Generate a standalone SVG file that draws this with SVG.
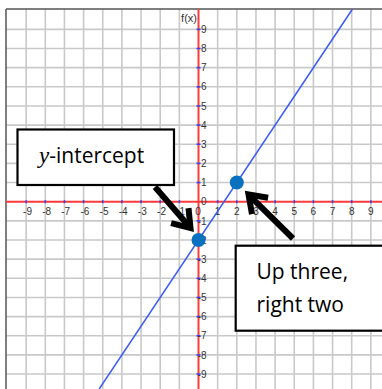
<svg xmlns="http://www.w3.org/2000/svg" width="382" height="389" viewBox="0 0 382 389">
<style>
.grid line{stroke:#c9c9c9;stroke-width:1.6}
.axis{stroke:#ff3a3a;stroke-width:2}
.tick line{stroke:#3344ee;stroke-width:1.6}
.lbl{font-family:"Liberation Sans",Arial,sans-serif;font-size:10px;fill:#333}
.xl{text-anchor:middle}
.yl{text-anchor:end}
.box{fill:#fff;stroke:#000;stroke-width:2.2}
.btxt{font-family:"Open Sans","Liberation Sans",sans-serif;font-size:21px;fill:#000}
.arrow{fill:none;stroke:#000;stroke-width:6;stroke-linejoin:miter;stroke-miterlimit:10}
.pt{fill:#0a70c0}
</style>
<rect width="382" height="389" fill="#fff"/>
<g id="grid" class="grid">
<line x1="26.15" y1="9" x2="26.15" y2="389"/><line x1="45.3" y1="9" x2="45.3" y2="389"/><line x1="64.45" y1="9" x2="64.45" y2="389"/><line x1="83.6" y1="9" x2="83.6" y2="389"/><line x1="102.75" y1="9" x2="102.75" y2="389"/><line x1="121.9" y1="9" x2="121.9" y2="389"/><line x1="141.05" y1="9" x2="141.05" y2="389"/><line x1="160.2" y1="9" x2="160.2" y2="389"/><line x1="179.35" y1="9" x2="179.35" y2="389"/><line x1="217.65" y1="9" x2="217.65" y2="389"/><line x1="236.8" y1="9" x2="236.8" y2="389"/><line x1="255.95" y1="9" x2="255.95" y2="389"/><line x1="275.1" y1="9" x2="275.1" y2="389"/><line x1="294.25" y1="9" x2="294.25" y2="389"/><line x1="313.4" y1="9" x2="313.4" y2="389"/><line x1="332.55" y1="9" x2="332.55" y2="389"/><line x1="351.7" y1="9" x2="351.7" y2="389"/><line x1="370.85" y1="9" x2="370.85" y2="389"/>
<line x1="6" y1="29.35" x2="382" y2="29.35"/><line x1="6" y1="48.5" x2="382" y2="48.5"/><line x1="6" y1="67.65" x2="382" y2="67.65"/><line x1="6" y1="86.8" x2="382" y2="86.8"/><line x1="6" y1="105.95" x2="382" y2="105.95"/><line x1="6" y1="125.1" x2="382" y2="125.1"/><line x1="6" y1="144.25" x2="382" y2="144.25"/><line x1="6" y1="163.4" x2="382" y2="163.4"/><line x1="6" y1="182.55" x2="382" y2="182.55"/><line x1="6" y1="220.85" x2="382" y2="220.85"/><line x1="6" y1="240" x2="382" y2="240"/><line x1="6" y1="259.15" x2="382" y2="259.15"/><line x1="6" y1="278.3" x2="382" y2="278.3"/><line x1="6" y1="297.45" x2="382" y2="297.45"/><line x1="6" y1="316.6" x2="382" y2="316.6"/><line x1="6" y1="335.75" x2="382" y2="335.75"/><line x1="6" y1="354.9" x2="382" y2="354.9"/><line x1="6" y1="374.05" x2="382" y2="374.05"/>
</g>
<g id="frame" stroke="#555" stroke-width="1.5">
<line x1="6" y1="9" x2="382" y2="9"/>
<line x1="6" y1="9" x2="6" y2="389"/>
</g>
<g id="axes">
<line class="axis" x1="6" y1="201.7" x2="382" y2="201.7"/>
<line class="axis" x1="198.5" y1="9" x2="198.5" y2="389"/>
</g>
<g id="ticks" class="tick">
<line x1="26.15" y1="200.2" x2="26.15" y2="203.2"/><line x1="45.3" y1="200.2" x2="45.3" y2="203.2"/><line x1="64.45" y1="200.2" x2="64.45" y2="203.2"/><line x1="83.6" y1="200.2" x2="83.6" y2="203.2"/><line x1="102.75" y1="200.2" x2="102.75" y2="203.2"/><line x1="121.9" y1="200.2" x2="121.9" y2="203.2"/><line x1="141.05" y1="200.2" x2="141.05" y2="203.2"/><line x1="160.2" y1="200.2" x2="160.2" y2="203.2"/><line x1="179.35" y1="200.2" x2="179.35" y2="203.2"/><line x1="217.65" y1="200.2" x2="217.65" y2="203.2"/><line x1="236.8" y1="200.2" x2="236.8" y2="203.2"/><line x1="255.95" y1="200.2" x2="255.95" y2="203.2"/><line x1="275.1" y1="200.2" x2="275.1" y2="203.2"/><line x1="294.25" y1="200.2" x2="294.25" y2="203.2"/><line x1="313.4" y1="200.2" x2="313.4" y2="203.2"/><line x1="332.55" y1="200.2" x2="332.55" y2="203.2"/><line x1="351.7" y1="200.2" x2="351.7" y2="203.2"/><line x1="370.85" y1="200.2" x2="370.85" y2="203.2"/>
<line x1="196.5" y1="29.35" x2="200.5" y2="29.35"/><line x1="196.5" y1="48.5" x2="200.5" y2="48.5"/><line x1="196.5" y1="67.65" x2="200.5" y2="67.65"/><line x1="196.5" y1="86.8" x2="200.5" y2="86.8"/><line x1="196.5" y1="105.95" x2="200.5" y2="105.95"/><line x1="196.5" y1="125.1" x2="200.5" y2="125.1"/><line x1="196.5" y1="144.25" x2="200.5" y2="144.25"/><line x1="196.5" y1="163.4" x2="200.5" y2="163.4"/><line x1="196.5" y1="182.55" x2="200.5" y2="182.55"/><line x1="196.5" y1="220.85" x2="200.5" y2="220.85"/><line x1="196.5" y1="240" x2="200.5" y2="240"/><line x1="196.5" y1="259.15" x2="200.5" y2="259.15"/><line x1="196.5" y1="278.3" x2="200.5" y2="278.3"/><line x1="196.5" y1="297.45" x2="200.5" y2="297.45"/><line x1="196.5" y1="316.6" x2="200.5" y2="316.6"/><line x1="196.5" y1="335.75" x2="200.5" y2="335.75"/><line x1="196.5" y1="354.9" x2="200.5" y2="354.9"/><line x1="196.5" y1="374.05" x2="200.5" y2="374.05"/>
</g>
<g id="x-labels" class="lbl xl">
<text x="27.5" y="214.5">-9</text><text x="46.6" y="214.5">-8</text><text x="65.7" y="214.5">-7</text><text x="84.9" y="214.5">-6</text><text x="104" y="214.5">-5</text><text x="123.2" y="214.5">-4</text><text x="142.3" y="214.5">-3</text><text x="161.5" y="214.5">-2</text><text x="180.6" y="214.5">-1</text><text x="198" y="214.5">0</text><text x="217.65" y="214.5">1</text><text x="236.8" y="214.5">2</text><text x="255.95" y="214.5">3</text><text x="275.1" y="214.5">4</text><text x="294.25" y="214.5">5</text><text x="313.4" y="214.5">6</text><text x="332.55" y="214.5">7</text><text x="351.7" y="214.5">8</text><text x="370.85" y="214.5">9</text>
</g>
<g id="y-labels" class="lbl yl">
<text x="206.5" y="33">9</text><text x="206.5" y="52.1">8</text><text x="206.5" y="71.3">7</text><text x="206.5" y="90.4">6</text><text x="206.5" y="109.6">5</text><text x="206.5" y="128.7">4</text><text x="206.5" y="147.9">3</text><text x="206.5" y="167">2</text><text x="206.5" y="186.2">1</text><text x="206.5" y="205.3">0</text><text x="206.5" y="224.5">-1</text><text x="206.5" y="243.6">-2</text><text x="206.5" y="262.8">-3</text><text x="206.5" y="281.9">-4</text><text x="206.5" y="301.1">-5</text><text x="206.5" y="320.2">-6</text><text x="206.5" y="339.4">-7</text><text x="206.5" y="358.5">-8</text><text x="206.5" y="377.7">-9</text>
<text x="197" y="22" font-size="11">f(x)</text>
</g>
<g id="graph-line">
<line x1="352.2" y1="9.5" x2="99.2" y2="389" stroke="#3a5cf5" stroke-width="1.5"/>
</g>
<g id="box-intercept">
<rect class="box" x="17.5" y="129.5" width="156.5" height="55.5"/>
<text class="btxt" x="39" y="163"><tspan font-family="'Liberation Serif',serif" font-style="italic" font-size="23">y</tspan>-intercept</text>
</g>
<g id="box-rise-run">
<rect class="box" x="235.7" y="245.7" width="160" height="85"/>
<text class="btxt" x="256.5" y="279.3">Up three,</text>
<text class="btxt" x="256.5" y="311.7">right two</text>
</g>
<g id="connectors">
<line class="arrow" x1="155" y1="187" x2="189" y2="226.3"/>
<polyline class="arrow" points="188.5,208.1 190.5,228 171.1,223.1"/>
<line class="arrow" x1="293" y1="238.5" x2="250.3" y2="196.3"/>
<polyline class="arrow" points="252,214.1 248.5,194.5 268.1,197.8"/>
</g>
<g id="point-intercept"><circle class="pt" cx="198.5" cy="240" r="7"/></g>
<g id="point-2-1"><circle class="pt" cx="236.8" cy="182.55" r="7"/></g>
</svg>
